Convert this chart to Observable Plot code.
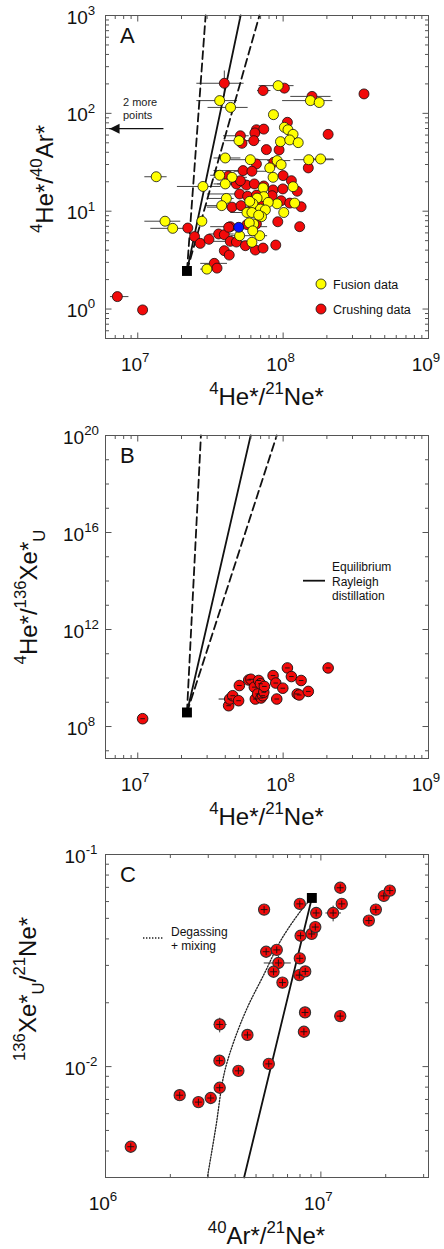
<!DOCTYPE html>
<html><head><meta charset="utf-8">
<script src="https://cdn.jsdelivr.net/npm/d3@7"></script>
<script src="https://cdn.jsdelivr.net/npm/@observablehq/plot@0.6"></script>
<style>
html,body{margin:0;padding:0;background:#fff;}
svg{display:block;}
#root{width:444px;}
</style></head><body><div id="root"></div>
<script>
// ================= DATA =================
// Panel A : [4He*/21Ne*, 4He*/40Ar*, xLow, xHigh]
const fusionA = [
  [3.66e7,135,2.53e7,4.82e7],[4.35e7,115,3.02e7,5.7e7],[9.24e7,192,6.79e7,1.18e8],[1.54e8,135,9.84e7,2.18e8],
  [1.77e8,129,null,null],[8.58e7,97,null,null],[1.02e8,72,null,null],[1.08e8,68,null,null],[1.17e8,61,null,null],
  [9.59e7,51.4,null,null],[1.11e8,53.5,null,null],[1.27e8,50.2,null,null],[4.97e7,52.6,3.9e7,6.28e7],
  [4.0e7,35,3.32e7,5.08e7],[5.95e7,33.6,4.33e7,8.18e7],[9.09e7,32.9,7.76e7,1.12e8],[9.69e7,29.9,null,null],
  [1.5e8,33.6,1.18e8,2.24e8],[1.81e8,34.2,1.5e8,2.21e8],[8.09e7,27.7,null,null],[8.53e7,22.2,null,null],
  [1.34e7,22.5,1.11e7,1.58e7],[3.66e7,23.3,3.15e7,4.57e7],[4.45e7,22.2,3.32e7,5.64e7],[2.81e7,17.9,1.86e7,3.7e7],
  [4.0e7,19.0,3.32e7,6.28e7],[1.17e8,17.8,null,null],[7.28e7,17.3,null,null],[4.07e7,13.5,2.99e7,4.57e7],
  [3.78e7,11.4,2.91e7,4.57e7],[7.36e7,14.1,null,null],[6.62e7,13.6,null,null],[9.09e7,11.9,null,null],
  [1.2e8,12.1,null,null],[6.2e7,11.9,null,null],[7.9e7,12.3,null,null],[5.64e7,9.7,4.33e7,7.76e7],
  [6.98e7,10.5,null,null],[7.55e7,10.3,null,null],[6.1e7,9.7,null,null],[7.1e7,8.8,null,null],
  [1.01e8,9.7,null,null],[6.28e7,7.4,null,null],[5.85e7,7.6,null,null],[1.54e7,7.9,1.11e7,1.96e7],
  [1.74e7,6.68,1.22e7,2.18e7],[2.76e7,7.9,null,null],[5.02e7,5.62,4.33e7,7.76e7],[6.1e7,4.81,null,null],
  [6.9e7,5.62,null,null],[2.99e7,2.56,2.69e7,3.7e7],[5.89e7,12.6,null,null],[6.79e7,9.1,null,null],
  [6.18e7,6.3,null,null]
];
const crushA = [
  [3.94e7,203,2.53e7,5.35e7],[7.28e7,171,6.62e7,8.18e7],[1.02e8,181,null,null],[1.58e8,149,1.12e8,2.12e8],
  [3.6e8,158,null,null],[1.07e8,81,null,null],[2.04e8,61,null,null],[5.08e7,59,3.86e7,5.8e7],
  [6.55e7,68,null,null],[7.36e7,69,null,null],[6.39e7,63,null,null],[6.28e7,52.6,4.57e7,6.98e7],
  [5.21e7,49.4,null,null],[7.67e7,42.6,null,null],[9.38e7,42.3,null,null],[1.49e8,27.7,null,null],
  [6.55e7,30.4,null,null],[8.62e7,31.6,null,null],[5.3e7,26.0,3.32e7,6.28e7],[6.1e7,25.6,4.57e7,7.76e7],
  [1.0e8,23.1,null,null],[4.77e7,19.0,3.51e7,6.28e7],[5.59e7,18.5,null,null],[6.34e7,19.0,null,null],
  [1.14e8,20.5,null,null],[1.25e8,16.0,null,null],[8.53e7,16.5,null,null],[9.95e7,16.9,null,null],
  [5.02e7,15.0,2.99e7,6.28e7],[5.7e7,14.2,null,null],[6.55e7,14.6,null,null],[9.69e7,12.8,null,null],
  [1.11e8,12.1,null,null],[1.33e8,11.1,null,null],[4.45e7,11.0,2.99e7,5.64e7],[5.13e7,11.4,null,null],
  [6.18e7,11.4,null,null],[9.19e7,7.8,null,null],[1.3e8,6.95,null,null],[4.33e7,6.95,3.15e7,7.76e7],
  [5.64e7,7.3,null,null],[6.55e7,7.4,null,null],[2.21e7,6.73,null,null],[2.46e7,5.5,null,null],
  [2.69e7,4.69,null,null],[3.09e7,5.16,null,null],[3.6e7,5.85,3.07e7,4.57e7],[3.94e7,5.75,null,null],
  [4.22e7,6.84,null,null],[4.33e7,4.92,3.32e7,5.64e7],[4.77e7,4.84,null,null],[5.5e7,4.44,null,null],
  [6.44e7,4.01,null,null],[7.28e7,4.2,null,null],[8.9e7,4.51,null,null],[3.94e7,3.95,null,null],
  [4.26e7,3.56,null,null],[3.36e7,2.93,2.69e7,4.11e7],[3.51e7,2.62,null,null],[7.24e6,1.34,6.44e6,8.63e6],
  [1.08e7,0.98,null,null],[5.08e7,20.5,null,null],[7.36e7,18.1,null,null],[6.98e7,12.8,null,null],
  [8.4e7,14.4,null,null],[4.2e7,22.9,null,null]
];
const crushYErrA = [[3.94e7,152,274]];           // [x, yLow, yHigh]
const blueA = [[4.95e7,6.84,4.11e7,5.95e7]];
const sourceA = [[2.18e7,2.45]];
const solidA = [[2.18e7,2.45],[5.1e7,1000]];
const dashLeftA = [[2.18e7,2.45],[2.93e7,1000]];
const dashRightA = [[2.18e7,2.45],[6.87e7,1000]];
const arrowA = [[1.49e7,69.7],[6.4e6,69.7]];
const xTickLabelsA = [1e7,1e8,1e9];
const yTickLabelsA = [1,10,100,1000];

// Panel B : [4He*/21Ne*, 4He*/136Xe*U]
const crushB = [
  [1.08e7,2.1e8],[4.22e7,7.2e8],[4.29e7,1.36e9],[4.5e7,1.86e9],[4.94e7,1.16e9],[5.0e7,4.9e9],[5.8e7,8.3e9],
  [6.0e7,8.9e9],[6.34e7,4.2e9],[6.44e7,1.36e9],[6.68e7,2.2e9],[6.79e7,7.9e9],[6.98e7,5.8e9],[7.05e7,1.5e9],
  [7.24e7,1.86e9],[7.36e7,2.6e9],[7.43e7,4.5e9],[8.53e7,1.26e10],[8.9e7,6.2e9],[9.04e7,1.36e9],[9.95e7,3.8e9],
  [1.07e8,2.6e10],[1.14e8,1.15e10],[1.25e8,2.2e9],[1.29e8,2.0e9],[1.33e8,7.9e9],[1.49e8,2.8e9],[2.04e8,2.6e10]
];
const errB = [[4.29e7,1.36e9,3.6e7,4.82e7]];
const sourceB = [[2.18e7,3.8e8]];
const solidB = [[2.18e7,3.8e8],[5.98e7,1e20]];
const dashLeftB = [[2.18e7,3.8e8],[2.72e7,1e20]];
const dashRightB = [[2.18e7,3.8e8],[9.04e7,1e20]];
const xTickLabelsB = [1e7,1e8,1e9];
const yTickLabelsB = [1e8,1e12,1e16,1e20];

// Panel C : [40Ar*/21Ne*, 136Xe*U/21Ne*]
const crushC = [
  [1.31e6,4.19e-3],[2.21e6,7.33e-3],[2.70e6,6.8e-3],[3.08e6,7.11e-3],[3.39e6,7.95e-3],[3.38e6,1.066e-2],
  [4.14e6,9.55e-3],[3.39e6,1.58e-2],[4.56e6,1.41e-2],[5.73e6,1.03e-2],[5.45e6,5.5e-2],[5.57e6,3.48e-2],
  [6.24e6,3.55e-2],[6.35e6,3.08e-2],[6.03e6,2.8e-2],[6.63e6,2.49e-2],[7.98e6,5.85e-2],[7.98e6,3.24e-2],
  [8.05e6,4.14e-2],[7.94e6,2.7e-2],[8.46e6,2.81e-2],[8.44e6,1.8e-2],[8.34e6,1.46e-2],[9.06e6,4.22e-2],
  [9.42e6,4.55e-2],[9.51e6,5.3e-2],[1.14e7,5.3e-2],[1.23e7,6.97e-2],[1.25e7,5.85e-2],[1.23e7,1.73e-2],
  [1.67e7,4.88e-2],[1.80e7,5.5e-2],[1.96e7,6.38e-2],[2.09e7,6.76e-2]
];
const errC = [ // [x, y, xLow, xHigh, yLow, yHigh]
  [3.39e6,1.58e-2,3.18e6,3.65e6,1.45e-2,1.7e-2],
  [6.35e6,3.08e-2,5.43e6,7.25e6,2.83e-2,3.33e-2],
  [1.14e7,5.3e-2,1.05e7,1.24e7,4.84e-2,5.74e-2]
];
const sourceC = [[9.08e6,6.24e-2]];
const solidC = [[9.08e6,6.24e-2],[4.4e6,0.003]];
const dottedC = [[9.08e6,6.24e-2],[8.07e6,5.43e-2],[6.51e6,3.93e-2],[5.45e6,2.73e-2],[4.56e6,1.9e-2],
  [3.95e6,1.32e-2],[3.55e6,9.2e-3],[3.25e6,5.15e-3],[2.97e6,0.003]];
const xTickLabelsC = [1e6,1e7];
const yTickLabelsC = [1e-2,1e-1];

// ================= HELPERS =================
const FONT = "'Liberation Sans', Arial, Helvetica, sans-serif";
const RED = "#f20a0a", YELLOW = "#ffff00";
const seg = (dx, dy) => ({draw(ctx){ ctx.moveTo(0,0); ctx.lineTo(dx,dy); }});
const dashSym = {draw(ctx){ ctx.moveTo(-2.3,0); ctx.lineTo(2.3,0); }};
const plusSym = {draw(ctx){ ctx.moveTo(-3.4,0); ctx.lineTo(3.4,0); ctx.moveTo(0,-3.4); ctx.lineTo(0,3.4); }};
const leftTri = {draw(ctx){ ctx.moveTo(0,0); ctx.lineTo(10,-5); ctx.lineTo(10,5); ctx.closePath(); }};

function rich(g, parts, {x, y, size, anchor = "middle", rotate = false}) {
  const t = g.append("text").attr("x", x).attr("y", y).attr("font-size", size)
    .attr("text-anchor", anchor).attr("fill", "#111").attr("font-family", FONT);
  if (rotate) t.attr("transform", `rotate(-90 ${x} ${y})`);
  let cur = 0;
  for (const [s, k] of parts) {
    const off = k === "sup" ? -0.45 * size : k === "sub" ? 0.32 * size : 0;
    const ts = t.append("tspan").attr("dy", off - cur).text(s);
    if (k !== "n") ts.attr("font-size", size * 0.7);
    cur = off;
  }
  return t;
}
const pow10 = v => [["10","n"],[String(Math.round(Math.log10(v))),"sup"]];
const near = (arr, v) => arr.some(a => Math.abs(Math.log10(a) - Math.log10(v)) < 1e-6);
const textGroup = (g, size, fill = "#111") => g.append("g").attr("font-family", FONT)
  .attr("font-size", size).attr("fill", fill).attr("text-anchor", "start");

function tickMarks(xDomain, yDomain, xMajor, yMajor, xAll, yAll) {
  const [x0, x1] = xDomain, [y0, y1] = yDomain;
  const inX = xAll.filter(v => v >= x0 * 0.9999 && v <= x1 * 1.0001);
  const inY = yAll.filter(v => v >= y0 * 0.9999 && v <= y1 * 1.0001);
  const xMa = inX.filter(v => near(xMajor, v)), xMi = inX.filter(v => !near(xMajor, v));
  const yMa = inY.filter(v => near(yMajor, v)), yMi = inY.filter(v => !near(yMajor, v));
  const o = {fill: "none", stroke: "#555", strokeWidth: 1};
  const L = 6, l = 3.5;
  return [
    Plot.dot(xMi, {...o, x: d => d, y: () => y0, symbol: seg(0, -l)}),
    Plot.dot(xMi, {...o, x: d => d, y: () => y1, symbol: seg(0, l)}),
    Plot.dot(xMa, {...o, x: d => d, y: () => y0, symbol: seg(0, -L)}),
    Plot.dot(xMa, {...o, x: d => d, y: () => y1, symbol: seg(0, L)}),
    Plot.dot(yMi, {...o, y: d => d, x: () => x0, symbol: seg(l, 0)}),
    Plot.dot(yMi, {...o, y: d => d, x: () => x1, symbol: seg(-l, 0)}),
    Plot.dot(yMa, {...o, y: d => d, x: () => x0, symbol: seg(L, 0)}),
    Plot.dot(yMa, {...o, y: d => d, x: () => x1, symbol: seg(-L, 0)})
  ];
}

function panel(cfg) {
  const mT = 15, mL = 105, mR = 16;
  const xAll = cfg.xAll || d3.scaleLog().domain(cfg.xDomain).ticks();
  const yAll = cfg.yAll || d3.scaleLog().domain(cfg.yDomain).ticks();
  const chart = Plot.plot({
    width: 444, height: cfg.height,
    marginTop: mT, marginLeft: mL, marginRight: mR, marginBottom: cfg.marginBottom,
    style: {fontFamily: FONT, background: "#fff", overflow: "visible"},
    x: {type: "log", domain: cfg.xDomain, axis: null},
    y: {type: "log", domain: cfg.yDomain, axis: null},
    marks: [
      ...cfg.marks,
      ...tickMarks(cfg.xDomain, cfg.yDomain, cfg.xLabels, cfg.yLabels, xAll, yAll),
      Plot.frame({stroke: "#555", strokeWidth: 1})
    ]
  });
  const sx = chart.scale("x"), sy = chart.scale("y");
  const g = d3.select(chart).append("g");
  const bottom = cfg.height - cfg.marginBottom;
  for (const v of cfg.xLabels) rich(g, pow10(v), {x: sx.apply(v) - 2, y: bottom + 33, size: 19});
  for (const v of cfg.yLabels) rich(g, pow10(v), {x: 81, y: sy.apply(v) + 8.5, size: 19});
  rich(g, cfg.xTitle, {x: (mL + 444 - mR) / 2, y: bottom + 67, size: 24});
  rich(g, cfg.yTitle, {x: cfg.yTitleX, y: cfg.yTitleY, size: 24, rotate: true});
  textGroup(g, 22).append("text").attr("x", 120).attr("y", mT + 28).text(cfg.letter);
  if (cfg.extra) cfg.extra(g, sx, sy);
  document.getElementById("root").appendChild(chart);
  return chart;
}

const errLink = (data, stroke = "#444") => Plot.link(data.filter(d => d[2] != null),
  {x1: d => d[2], x2: d => d[3], y1: d => d[1], y2: d => d[1], stroke, strokeWidth: 1});
const P = d => d[0], Q = d => d[1];

// ================= PANEL A =================
panel({
  letter: "A", height: 420, marginBottom: 82,
  xDomain: [6e6, 1e9], yDomain: [0.5, 1000],
  xLabels: xTickLabelsA, yLabels: yTickLabelsA,
  xTitle: [["4","sup"],["He*/","n"],["21","sup"],["Ne*","n"]],
  yTitle: [["4","sup"],["He*/","n"],["40","sup"],["Ar*","n"]],
  yTitleX: 53, yTitleY: 179,
  marks: [
    errLink(crushA), errLink(fusionA), errLink(blueA),
    Plot.link(crushYErrA, {x1: P, x2: P, y1: d => d[1], y2: d => d[2], stroke: "#444", strokeWidth: 1}),
    Plot.line(dashLeftA, {x: P, y: Q, stroke: "#111", strokeWidth: 1.8, strokeDasharray: "8,4.5"}),
    Plot.line(dashRightA, {x: P, y: Q, stroke: "#111", strokeWidth: 1.8, strokeDasharray: "8,4.5"}),
    Plot.line(solidA, {x: P, y: Q, stroke: "#111", strokeWidth: 1.8}),
    Plot.dot(crushA, {x: P, y: Q, r: 5, fill: RED, stroke: "#111", strokeWidth: 0.8}),
    Plot.dot(fusionA, {x: P, y: Q, r: 5, fill: YELLOW, stroke: "#111", strokeWidth: 0.8}),
    Plot.dot(blueA, {x: P, y: Q, r: 5, fill: "#0a14ff", stroke: "#111", strokeWidth: 0.8}),
    Plot.dot(sourceA, {x: P, y: Q, r: 5.6, symbol: "square", fill: "#000"}),
    Plot.line(arrowA, {x: P, y: Q, stroke: "#111", strokeWidth: 1.3}),
    Plot.dot(arrowA.slice(1), {x: P, y: Q, symbol: leftTri, fill: "#111", stroke: "none"})
  ],
  extra(g) {
    const t = textGroup(g, 11, "#222");
    t.append("text").attr("x", 123).attr("y", 106).text("2 more");
    t.append("text").attr("x", 123).attr("y", 118.5).text("points");
    const lg = textGroup(g, 12.5);
    lg.append("circle").attr("cx", 321).attr("cy", 284).attr("r", 5).attr("fill", YELLOW).attr("stroke", "#111").attr("stroke-width", 0.8);
    lg.append("circle").attr("cx", 321).attr("cy", 309).attr("r", 5).attr("fill", RED).attr("stroke", "#111").attr("stroke-width", 0.8);
    lg.append("text").attr("x", 333).attr("y", 288.5).text("Fusion data");
    lg.append("text").attr("x", 333).attr("y", 313.5).text("Crushing data");
  }
});

// ================= PANEL B =================
panel({
  letter: "B", height: 419, marginBottom: 81,
  xDomain: [6e6, 1e9], yDomain: [4.8e6, 1e20],
  yAll: d3.range(7, 21).map(e => Math.pow(10, e)),
  xLabels: xTickLabelsB, yLabels: yTickLabelsB,
  xTitle: [["4","sup"],["He*/","n"],["21","sup"],["Ne*","n"]],
  yTitle: [["4","sup"],["He*/","n"],["136","sup"],["Xe*","n"],["U","sub"]],
  yTitleX: 37, yTitleY: 177,
  marks: [
    errLink(errB, "#222"),
    Plot.line(dashLeftB, {x: P, y: Q, stroke: "#111", strokeWidth: 1.8, strokeDasharray: "8,4.5"}),
    Plot.line(dashRightB, {x: P, y: Q, stroke: "#111", strokeWidth: 1.8, strokeDasharray: "8,4.5"}),
    Plot.line(solidB, {x: P, y: Q, stroke: "#111", strokeWidth: 1.8}),
    Plot.dot(crushB, {x: P, y: Q, r: 5.3, fill: RED, stroke: "#111", strokeWidth: 0.9}),
    Plot.dot(crushB, {x: P, y: Q, symbol: dashSym, fill: "none", stroke: "#111", strokeWidth: 0.9}),
    Plot.dot(sourceB, {x: P, y: Q, r: 5.6, symbol: "square", fill: "#000"})
  ],
  extra(g) {
    const lg = textGroup(g, 12);
    lg.append("line").attr("x1", 303).attr("x2", 325).attr("y1", 160.7).attr("y2", 160.7).attr("stroke", "#111").attr("stroke-width", 1.8);
    lg.append("text").attr("x", 332).attr("y", 151).text("Equilibrium");
    lg.append("text").attr("x", 332).attr("y", 165.5).text("Rayleigh");
    lg.append("text").attr("x", 332).attr("y", 180).text("distillation");
  }
});

// ================= PANEL C =================
panel({
  letter: "C", height: 410, marginBottom: 72,
  xDomain: [1e6, 3.16e7], yDomain: [0.003, 0.1],
  xLabels: xTickLabelsC, yLabels: yTickLabelsC,
  xTitle: [["40","sup"],["Ar*/","n"],["21","sup"],["Ne*","n"]],
  yTitle: [["136","sup"],["Xe*","n"],["U","sub"],["/","n"],["21","sup"],["Ne*","n"]],
  yTitleX: 36, yTitleY: 150,
  marks: [
    Plot.link(errC, {x1: d => d[2], x2: d => d[3], y1: Q, y2: Q, stroke: "#333", strokeWidth: 1}),
    Plot.link(errC, {x1: P, x2: P, y1: d => d[4], y2: d => d[5], stroke: "#333", strokeWidth: 1}),
    Plot.line(dottedC, {x: P, y: Q, stroke: "#222", strokeWidth: 1.3, strokeDasharray: "1.4,1.6", curve: "catmull-rom"}),
    Plot.line(solidC, {x: P, y: Q, stroke: "#111", strokeWidth: 1.8}),
    Plot.dot(crushC, {x: P, y: Q, r: 5.6, fill: RED, stroke: "#333", strokeWidth: 1.1}),
    Plot.dot(crushC, {x: P, y: Q, symbol: plusSym, fill: "none", stroke: "#111", strokeWidth: 0.9}),
    Plot.dot(sourceC, {x: P, y: Q, r: 5.6, symbol: "square", fill: "#000"})
  ],
  extra(g) {
    const lg = textGroup(g, 12);
    lg.append("line").attr("x1", 143).attr("x2", 164).attr("y1", 99).attr("y2", 99).attr("stroke", "#222").attr("stroke-width", 1.3).attr("stroke-dasharray", "1.4,1.6");
    lg.append("text").attr("x", 171).attr("y", 97).text("Degassing");
    lg.append("text").attr("x", 171).attr("y", 111).text("+ mixing");
  }
});
</script>
</body></html>
